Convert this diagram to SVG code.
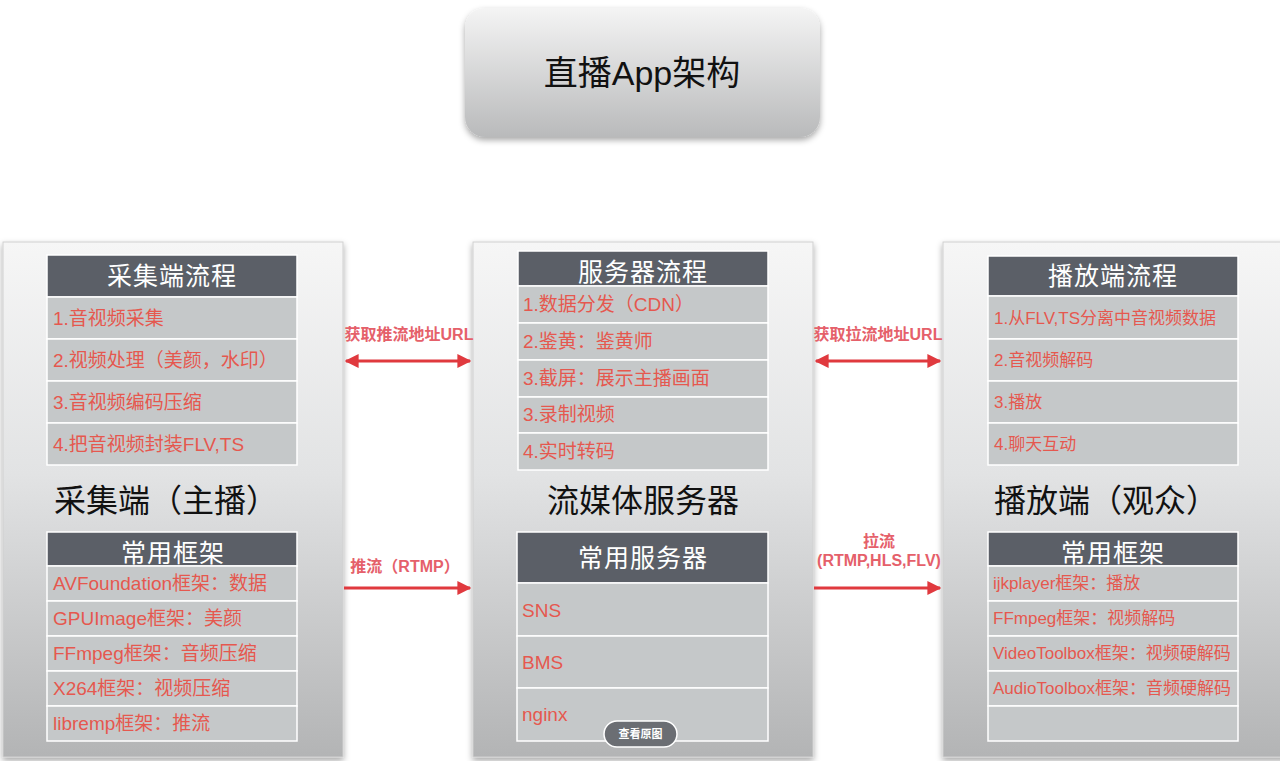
<svg xmlns="http://www.w3.org/2000/svg" width="1280" height="761" viewBox="0 0 1280 761">
<defs>
<linearGradient id="gPanel" x1="0" y1="0" x2="0" y2="1">
<stop offset="0" stop-color="#f6f6f6"/>
<stop offset="0.45" stop-color="#e2e3e4"/>
<stop offset="1" stop-color="#b3b4b5"/>
</linearGradient>
<linearGradient id="gTitle" x1="0" y1="0" x2="0" y2="1">
<stop offset="0" stop-color="#f4f4f4"/>
<stop offset="1" stop-color="#b9babb"/>
</linearGradient>
<filter id="sh" x="-5%" y="-5%" width="110%" height="112%">
<feDropShadow dx="0" dy="3" stdDeviation="3" flood-color="#000" flood-opacity="0.35"/>
</filter>
<marker id="ah" viewBox="0 0 10 10" refX="9" refY="5" markerWidth="14" markerHeight="14" markerUnits="userSpaceOnUse" orient="auto-start-reverse">
<path d="M0,0 L10,5 L0,10 z" fill="#e0393e"/>
</marker>
</defs>
<style>
.panel{fill:url(#gPanel);stroke:#d0d0d0;stroke-width:1;filter:url(#sh)}
.hd{fill:#5b5f67;stroke:#ffffff;stroke-width:1.5}
.row{fill:#c5c8c9;stroke:#ffffff;stroke-width:1.5}
.ht{font-family:"Liberation Sans","Noto Sans CJK SC",sans-serif;font-size:25px;fill:#ffffff;text-anchor:middle;letter-spacing:1px}
.rt{font-family:"Liberation Sans","Noto Sans CJK SC",sans-serif;font-size:19px;fill:#e5584f}
.rs{font-family:"Liberation Sans","Noto Sans CJK SC",sans-serif;font-size:17px;fill:#e5584f}
.big{font-family:"Liberation Sans","Noto Sans CJK SC",sans-serif;font-size:32px;fill:#111111;text-anchor:middle}
.lbl{font-family:"Liberation Sans","Noto Sans CJK SC",sans-serif;font-size:16px;font-weight:bold;fill:#e5606a;text-anchor:middle}
.arr{stroke:#e0393e;stroke-width:3;fill:none}
</style>
<rect width="1280" height="761" fill="#ffffff"/>

<g id="title">
<rect x="465" y="8" width="355" height="129" rx="20" fill="url(#gTitle)" filter="url(#sh)"/>
<text x="642" y="85" font-family="'Liberation Sans','Noto Sans CJK SC',sans-serif" font-size="34" fill="#111111" text-anchor="middle">直播App架构</text>
</g>

<g id="panel-capture">
<rect class="panel" x="3" y="242" width="340" height="515"/>
<rect class="hd" x="47" y="255" width="250" height="42"/>
<text class="ht" x="172" y="285">采集端流程</text>
<rect class="row" x="47" y="297" width="250" height="42"/>
<rect class="row" x="47" y="339" width="250" height="42"/>
<rect class="row" x="47" y="381" width="250" height="42"/>
<rect class="row" x="47" y="423" width="250" height="42"/>
<text class="rt" x="53" y="325">1.音视频采集</text>
<text class="rt" x="53" y="367">2.视频处理（美颜，水印）</text>
<text class="rt" x="53" y="409">3.音视频编码压缩</text>
<text class="rt" x="53" y="451">4.把音视频封装FLV,TS</text>
<text class="big" x="166" y="512">采集端（主播）</text>
<rect class="hd" x="47" y="532" width="250" height="34"/>
<text class="ht" x="173" y="562">常用框架</text>
<rect class="row" x="47" y="566" width="250" height="35"/>
<rect class="row" x="47" y="601" width="250" height="35"/>
<rect class="row" x="47" y="636" width="250" height="35"/>
<rect class="row" x="47" y="671" width="250" height="35"/>
<rect class="row" x="47" y="706" width="250" height="35"/>
<text class="rt" x="53" y="590">AVFoundation框架：数据</text>
<text class="rt" x="53" y="625">GPUImage框架：美颜</text>
<text class="rt" x="53" y="660">FFmpeg框架：音频压缩</text>
<text class="rt" x="53" y="695">X264框架：视频压缩</text>
<text class="rt" x="53" y="730">libremp框架：推流</text>
</g>

<g id="panel-server">
<rect class="panel" x="473" y="242" width="340" height="515"/>
<rect class="hd" x="518" y="251" width="250" height="35"/>
<text class="ht" x="643" y="281">服务器流程</text>
<rect class="row" x="518" y="286" width="250" height="37"/>
<rect class="row" x="518" y="323" width="250" height="37"/>
<rect class="row" x="518" y="360" width="250" height="37"/>
<rect class="row" x="518" y="397" width="250" height="36"/>
<rect class="row" x="518" y="433" width="250" height="37"/>
<text class="rt" x="523" y="311">1.数据分发（CDN）</text>
<text class="rt" x="523" y="348">2.鉴黄：鉴黄师</text>
<text class="rt" x="523" y="385">3.截屏：展示主播画面</text>
<text class="rt" x="523" y="421">3.录制视频</text>
<text class="rt" x="523" y="458">4.实时转码</text>
<text class="big" x="643" y="512">流媒体服务器</text>
<rect class="hd" x="517" y="532" width="251" height="51"/>
<text class="ht" x="643" y="567">常用服务器</text>
<rect class="row" x="517" y="583" width="251" height="53"/>
<rect class="row" x="517" y="636" width="251" height="52"/>
<rect class="row" x="517" y="688" width="251" height="53"/>
<text class="rt" x="522" y="617">SNS</text>
<text class="rt" x="522" y="669">BMS</text>
<text class="rt" x="522" y="721">nginx</text>
</g>

<g id="panel-player">
<rect class="panel" x="943" y="242" width="345" height="515"/>
<rect class="hd" x="988" y="256" width="250" height="40"/>
<text class="ht" x="1113" y="285">播放端流程</text>
<rect class="row" x="988" y="296" width="250" height="43"/>
<rect class="row" x="988" y="339" width="250" height="42"/>
<rect class="row" x="988" y="381" width="250" height="42"/>
<rect class="row" x="988" y="423" width="250" height="42"/>
<text class="rs" x="994" y="324">1.从FLV,TS分离中音视频数据</text>
<text class="rs" x="994" y="366">2.音视频解码</text>
<text class="rs" x="994" y="408">3.播放</text>
<text class="rs" x="994" y="450">4.聊天互动</text>
<text class="big" x="1106" y="512">播放端（观众）</text>
<rect class="hd" x="988" y="532" width="250" height="34"/>
<text class="ht" x="1113" y="562">常用框架</text>
<rect class="row" x="988" y="566" width="250" height="35"/>
<rect class="row" x="988" y="601" width="250" height="35"/>
<rect class="row" x="988" y="636" width="250" height="35"/>
<rect class="row" x="988" y="671" width="250" height="35"/>
<rect class="row" x="988" y="706" width="250" height="35"/>
<text class="rs" x="993" y="589">ijkplayer框架：播放</text>
<text class="rs" x="993" y="624">FFmpeg框架：视频解码</text>
<text class="rs" x="993" y="659">VideoToolbox框架：视频硬解码</text>
<text class="rs" x="993" y="694">AudioToolbox框架：音频硬解码</text>
</g>

<g id="connectors">
<line class="arr" x1="346" y1="361" x2="470" y2="361" marker-start="url(#ah)" marker-end="url(#ah)"/>
<text class="lbl" x="409" y="340">获取推流地址URL</text>
<line class="arr" x1="816" y1="361" x2="940" y2="361" marker-start="url(#ah)" marker-end="url(#ah)"/>
<text class="lbl" x="878" y="340">获取拉流地址URL</text>
<line class="arr" x1="344" y1="588" x2="470" y2="588" marker-end="url(#ah)"/>
<text class="lbl" x="405" y="572">推流（RTMP）</text>
<line class="arr" x1="814" y1="588" x2="940" y2="588" marker-end="url(#ah)"/>
<text class="lbl" x="879" y="547" font-weight="normal">拉流</text>
<text class="lbl" x="879" y="566">(RTMP,HLS,FLV)</text>
</g>

<g id="view-original">
<rect x="604" y="721" width="73" height="26" rx="13" fill="#6b6e73" stroke="#ffffff" stroke-width="1.5"/>
<text x="640.5" y="738" font-family="'Liberation Sans','Noto Sans CJK SC',sans-serif" font-size="11" font-weight="bold" fill="#ffffff" text-anchor="middle">查看原图</text>
</g>
</svg>
